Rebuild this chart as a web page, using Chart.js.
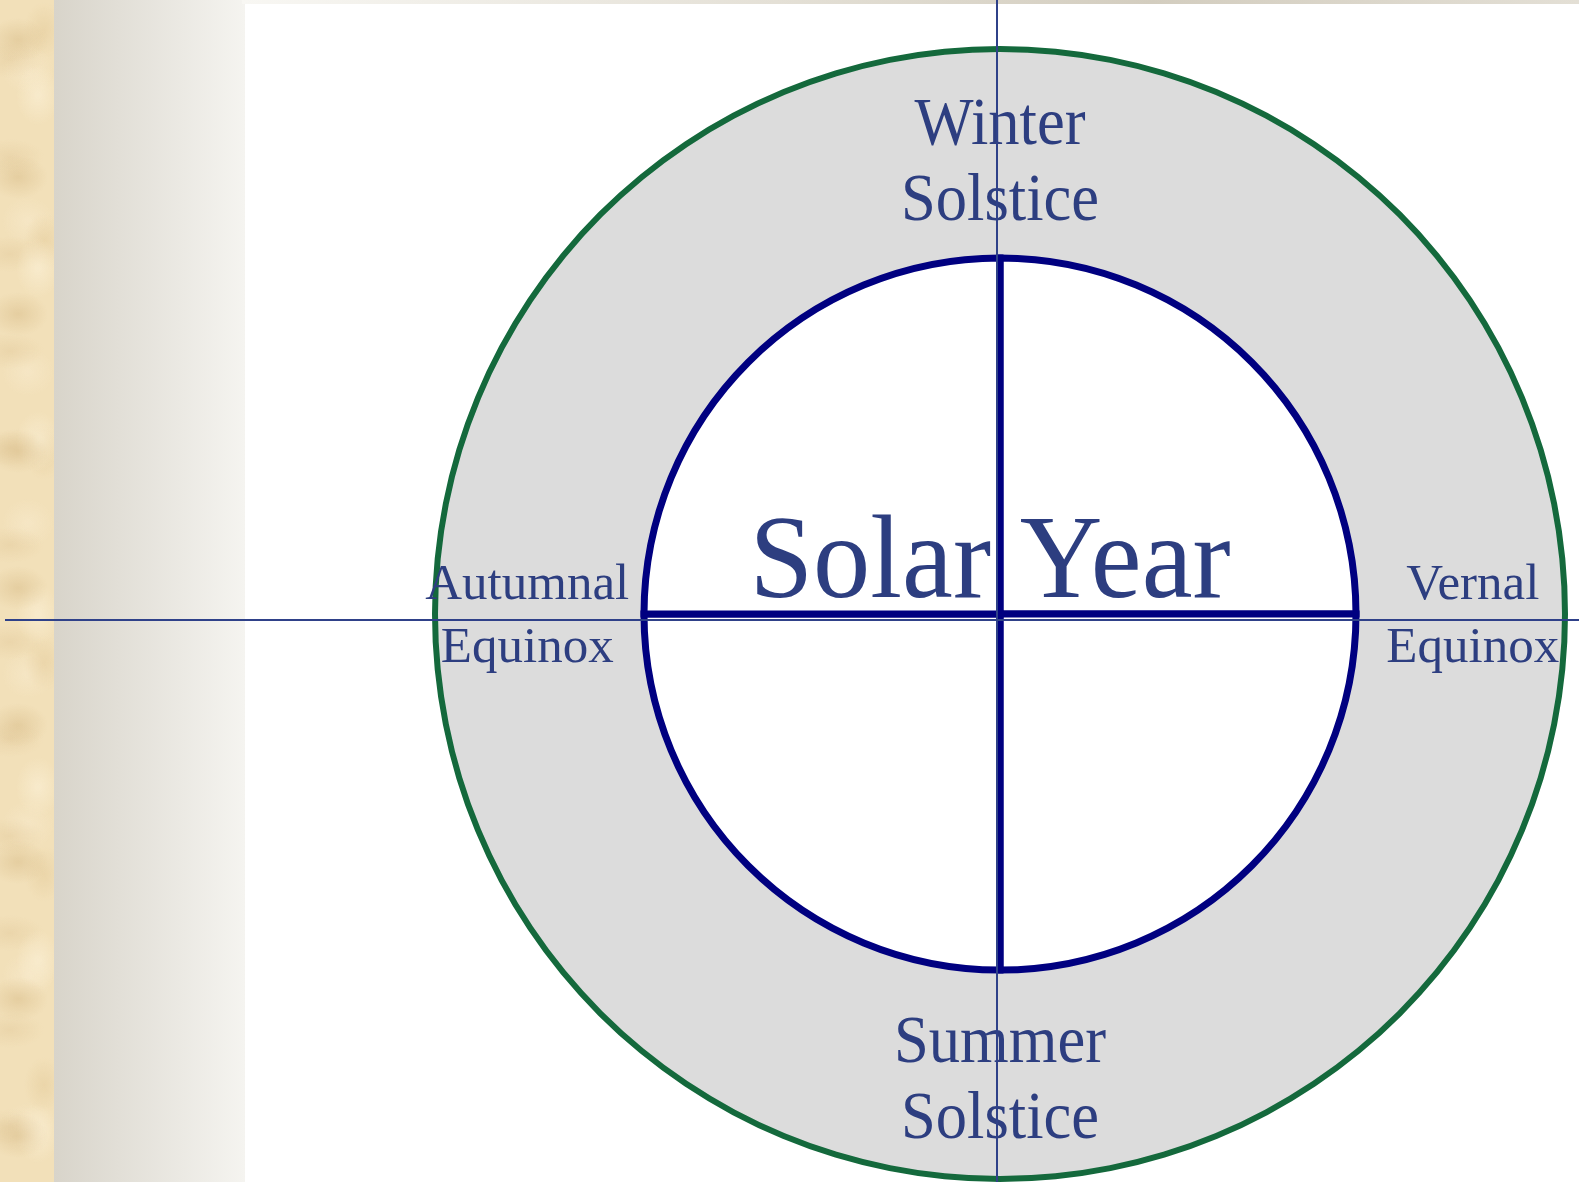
<!DOCTYPE html>
<html>
<head>
<meta charset="utf-8">
<title>Solar Year</title>
<script src="https://cdn.jsdelivr.net/npm/chart.js@4.4.1/dist/chart.umd.min.js"></script>
<style>
  html, body { margin: 0; padding: 0; }
  body { width: 1579px; height: 1182px; position: relative; overflow: hidden; background: #ffffff; }
  .parchment {
    position: absolute; left: 0; top: 0; width: 54px; height: 100%;
    background-color: #f2e0b9;
    background-image:
      radial-gradient(ellipse 30px 22px at 18px 40px, rgba(216,188,136,0.5), transparent),
      radial-gradient(ellipse 22px 30px at 38px 95px, rgba(250,238,210,0.75), transparent),
      radial-gradient(ellipse 34px 18px at 10px 60px, rgba(224,198,150,0.4), transparent),
      radial-gradient(ellipse 20px 28px at 44px 30px, rgba(226,200,150,0.45), transparent),
      radial-gradient(ellipse 26px 24px at 28px 70px, rgba(248,234,204,0.6), transparent);
    background-size: 54px 137px, 54px 173px, 54px 97px, 54px 211px, 54px 151px;
  }
  .fade { position: absolute; left: 54px; top: 0; width: 191px; height: 100%; background: linear-gradient(to right, #d8d4ca, #f5f4f0); }
  .topband { position: absolute; left: 242px; top: 0; right: 0; height: 4px; background: linear-gradient(to right, #f8f7f3, #e4e0d6 40%, #d3cdbf 68%, #e3dfd5); }
  #wrap { position: absolute; left: 0; top: 0; width: 1579px; height: 1182px; }
</style>
</head>
<body>
<div class="parchment"></div>
<div class="fade"></div>
<div class="topband"></div>
<div id="wrap"><canvas id="solarChart" width="1579" height="1182"></canvas></div>
<script>
// season ring, read clockwise from the top
const ringSeasons = ["Winter Solstice", "Vernal Equinox", "Summer Solstice", "Autumnal Equinox"];
const ringShare = [25, 25, 25, 25];
// four equal quarters of the year (inner disc)
const quarterShare = [25, 25, 25, 25];
// outer rim
const rimShare = [100];
const centreTitle = "Solar Year";

const textBlue = "#2d3e80";
const serif = "'Liberation Serif', 'Times New Roman', serif";

const seasonText = {
  id: "seasonText",
  afterDatasetsDraw(chart) {
    const c = chart.ctx;
    const ringArcs = chart.getDatasetMeta(1).data;
    const hub = chart.getDatasetMeta(2).data[0];
    const cx = hub.x;
    const cy = hub.y;

    c.save();
    c.fillStyle = textBlue;
    c.textAlign = "center";
    c.textBaseline = "alphabetic";

    ringSeasons.forEach((name, i) => {
      const pos = ringArcs[i].getCenterPoint();
      const solstice = i % 2 === 0;
      const size = solstice ? 68 : 51;
      const gap = solstice ? 76 : 63;
      const squeeze = solstice ? 0.92 : 1;
      const cap = size * 0.66;
      // equinox labels sit a touch further out, solstice labels a touch lower
      const x = cx + (pos.x - cx) * 1.03;
      const y = solstice ? pos.y + 5 : pos.y;
      const first = y - (gap - cap) / 2;
      c.font = size + "px " + serif;
      name.split(" ").forEach((line, k) => {
        c.save();
        c.translate(x, first + k * gap);
        c.scale(squeeze, 1);
        c.fillText(line, 0, 0);
        c.restore();
      });
    });

    // big title in the middle
    c.font = "118px " + serif;
    c.save();
    c.translate(cx - 10, cy - 17);
    c.scale(0.97, 1);
    c.fillText(centreTitle, 0, 0);
    c.restore();

    // thin axis lines
    c.strokeStyle = "#2f4189";
    c.lineWidth = 2;
    c.beginPath();
    c.moveTo(cx - 3, 0);
    c.lineTo(cx - 3, chart.height);
    c.moveTo(5, cy + 6);
    c.lineTo(chart.width, cy + 6);
    c.stroke();
    c.restore();
  }
};

const ctx = document.getElementById("solarChart");

if (ctx) {

  new Chart(ctx, {
    type: "doughnut",
    data: {
      labels: ringSeasons,
      datasets: [
        {
          label: "Rim",
          data: rimShare,
          backgroundColor: "#14693c",
          borderWidth: 0,
          weight: 6,
          order: 1
        },
        {
          label: "Seasons",
          data: ringShare,
          backgroundColor: "#dcdcdc",
          borderColor: "#dcdcdc",
          borderWidth: 1,
          rotation: -45,
          weight: 206,
          order: 1
        },
        {
          label: "Quarters",
          data: quarterShare,
          backgroundColor: "#ffffff",
          borderColor: "#000080",
          borderWidth: 7,
          borderJoinStyle: "miter",
          weight: 356,
          order: 0
        }
      ]
    },
    options: {
      responsive: false,
      animation: false,
      events: [],
      cutout: 0,
      radius: 568,
      layout: {
        padding: { left: 421, top: 46, right: 0, bottom: 0 }
      },
      plugins: {
        legend: { display: false },
        tooltip: { enabled: false }
      }
    },
    plugins: [seasonText]
  });

}
</script>
</body>
</html>
